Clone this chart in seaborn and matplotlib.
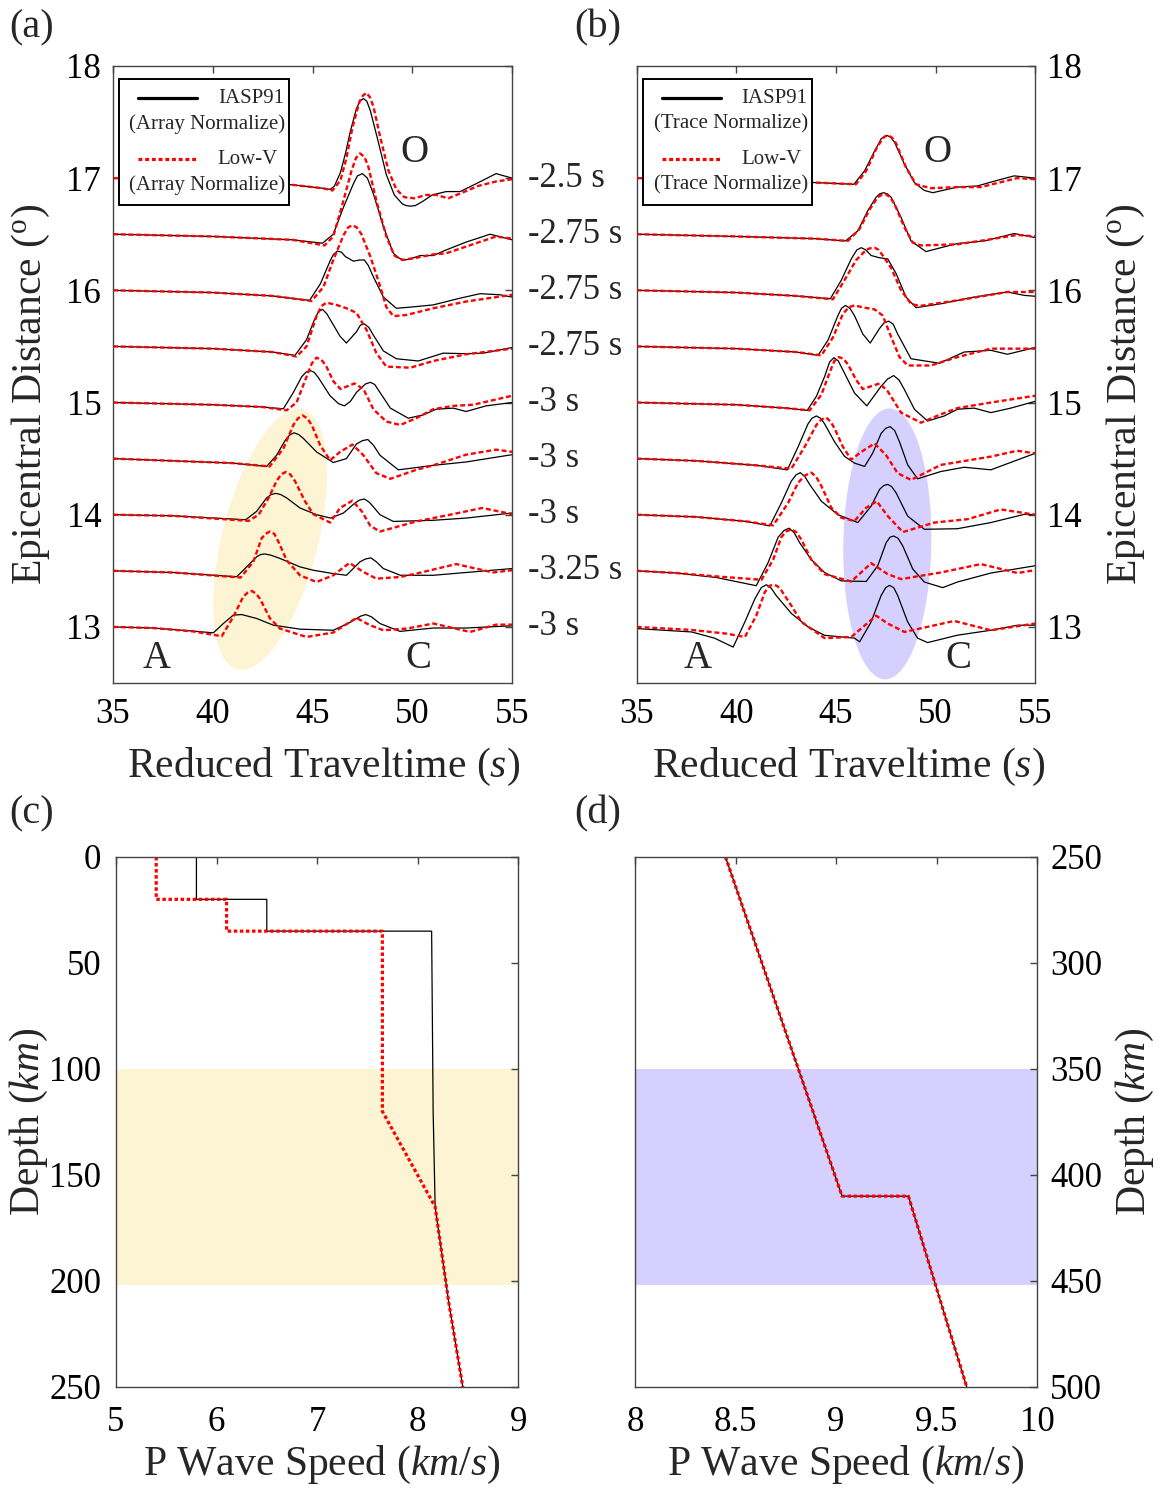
#!/usr/bin/env python3

import pandas as pd
import seaborn as sns
import matplotlib.pyplot as plt
from matplotlib.patches import Ellipse, Rectangle
from matplotlib.lines import Line2D
from matplotlib.transforms import ScaledTranslation

# epicentral distances of the record section and the time shift applied to each
DISTANCES = [13.0, 13.5, 14.0, 14.5, 15.0, 15.5, 16.0, 16.5, 17.0]
SHIFTS = ["-3 s", "-3.25 s", "-3 s", "-3 s", "-3 s", "-2.75 s", "-2.75 s", "-2.75 s", "-2.5 s"]

# waveform knots: (reduced traveltime s, amplitude in degrees above the trace baseline)
A_IASP = {
    17.0: [(35, 0), (40, -0.03), (44, -0.06), (45.5, -0.09), (45.9, -0.10), (46.1, -0.07), (46.4, 0.05),
           (46.65, 0.22), (46.9, 0.42), (47.2, 0.62), (47.38, 0.685), (47.55, 0.71), (47.72, 0.685),
           (47.9, 0.6), (48.3, 0.32), (48.7, 0.03), (49.1, -0.15), (49.5, -0.23), (49.7, -0.245),
           (49.9, -0.25), (50.15, -0.245), (50.5, -0.21), (51.0, -0.15), (51.7, -0.12),
           (52.4, -0.12), (53.2, -0.05), (54.2, 0.04), (55, 0.0)],
    16.5: [(35, 0), (40, -0.02), (44, -0.05), (45.5, -0.08), (46.04, 0.0), (46.55, 0.24), (47.05, 0.45),
           (47.25, 0.52), (47.5, 0.54), (47.75, 0.5), (48.05, 0.36), (48.55, 0.07), (49.05, -0.17),
           (49.35, -0.215), (49.6, -0.23), (49.9, -0.22), (50.4, -0.19), (51.05, -0.19), (51.7, -0.14),
           (52.7, -0.07), (53.9, 0.0), (55, -0.05)],
    16.0: [(35, 0), (40, -0.02), (43, -0.05), (44.85, -0.09), (45.4, 0.06), (45.9, 0.27), (46.05, 0.32),
           (46.25, 0.35), (46.45, 0.34), (46.65, 0.3), (47.05, 0.26), (47.35, 0.27), (47.6, 0.27),
           (47.8, 0.22), (48.05, 0.12), (48.55, -0.06), (49.2, -0.16), (49.9, -0.15), (51.05, -0.13),
           (52.4, -0.07), (53.4, -0.03), (54.4, -0.04), (55, -0.06)],
    15.5: [(35, 0), (40, -0.02), (43, -0.05), (44.12, -0.08), (44.7, 0.06), (45.1, 0.24), (45.3, 0.31),
           (45.5, 0.33), (45.72, 0.29), (45.95, 0.22), (46.38, 0.09), (46.7, 0.03), (47.2, 0.13), (47.4, 0.19),
           (47.6, 0.2), (47.82, 0.17), (48.05, 0.1), (48.55, -0.04), (49.2, -0.11), (50.3, -0.13),
           (51.55, -0.06), (52.7, -0.065), (53.55, -0.06), (55, -0.01)],
    15.0: [(35, 0), (40, -0.02), (42.5, -0.04), (43.54, -0.056), (44.04, 0.09), (44.46, 0.23), (44.67, 0.27),
           (44.87, 0.285), (45.08, 0.27), (45.3, 0.22), (45.88, 0.06), (46.3, -0.01), (46.6, -0.03),
           (46.9, 0.01), (47.2, 0.09), (47.65, 0.165), (47.9, 0.18), (48.12, 0.16), (48.38, 0.09),
           (48.9, -0.05), (49.8, -0.14), (50.55, -0.11), (51.2, -0.06), (52.05, -0.05), (52.7, -0.08),
           (53.7, -0.03), (55, 0.0)],
    14.5: [(35, 0), (38, -0.02), (41, -0.04), (42.7, -0.07), (43.2, 0.03), (43.62, 0.16), (43.85, 0.21),
           (44.07, 0.23), (44.3, 0.215), (44.54, 0.18), (45.2, 0.06), (46.04, -0.035), (46.7, 0.0),
           (47.2, 0.13), (47.5, 0.16), (47.77, 0.17), (48.05, 0.12), (48.38, 0.03), (49.3, -0.1),
           (50.2, -0.08), (51.05, -0.06), (52.7, -0.03), (55, 0.035)],
    14.0: [(35, 0), (38, -0.01), (41.65, -0.045), (42.2, 0.03), (42.7, 0.15), (42.93, 0.18), (43.15, 0.19),
           (43.4, 0.18), (43.7, 0.15), (44.37, 0.06), (45.2, 0.0), (45.9, -0.03), (46.55, 0.015), (47.1, 0.1),
           (47.35, 0.13), (47.6, 0.14), (47.85, 0.11), (48.05, 0.07), (48.38, 0.0), (49.05, -0.06),
           (51.05, -0.05), (52.7, -0.03), (55, 0.015)],
    13.5: [(35, 0), (38, -0.015), (41.2, -0.053), (41.7, 0.035), (42.2, 0.125), (42.4, 0.145), (42.6, 0.15),
           (42.9, 0.14), (43.37, 0.11), (44.37, 0.035), (45.04, 0.005), (46.04, -0.025), (46.7, -0.04),
           (47.38, 0.08), (47.65, 0.105), (47.93, 0.115), (48.2, 0.08), (48.55, 0.02), (49.4, -0.04),
           (51.05, -0.04), (52.7, -0.015), (55, 0.02)],
    13.0: [(35, 0), (37, -0.01), (38.5, -0.03), (40.03, -0.053), (40.53, 0.03), (41.03, 0.105), (41.45, 0.11),
           (42.2, 0.075), (43.04, 0.015), (44.37, -0.02), (46.04, -0.03), (46.88, 0.04), (47.4, 0.095),
           (47.67, 0.11), (47.95, 0.09), (48.38, 0.03), (49.39, -0.04), (51.05, -0.01), (52.7, -0.01),
           (55, 0.01)],
}

A_LOWV = {
    17.0: [(35, 0), (40, -0.03), (44, -0.06), (45.5, -0.09), (46.0, -0.11), (46.4, -0.02), (46.7, 0.18),
           (47.0, 0.45), (47.35, 0.68), (47.52, 0.735), (47.7, 0.76), (47.88, 0.72), (48.05, 0.64),
           (48.4, 0.36), (48.8, 0.07), (49.2, -0.1), (49.6, -0.17), (50.1, -0.18), (50.7, -0.15),
           (51.2, -0.15), (51.8, -0.18), (52.5, -0.13), (53.3, -0.07), (54.2, -0.03), (55, -0.01)],
    16.5: [(35, 0), (40, -0.02), (44, -0.05), (45.6, -0.1), (46.04, -0.02), (46.55, 0.3), (46.96, 0.57),
           (47.18, 0.68), (47.38, 0.72), (47.6, 0.69), (47.8, 0.6), (48.2, 0.3), (48.7, -0.02), (49.1, -0.19),
           (49.5, -0.23), (50.2, -0.21), (51.05, -0.18), (51.7, -0.17), (52.7, -0.11), (54.2, -0.02),
           (55, -0.04)],
    16.0: [(35, 0), (40, -0.02), (43, -0.05), (44.95, -0.095), (45.55, 0.03), (46.04, 0.27), (46.55, 0.49),
           (46.78, 0.56), (47.0, 0.58), (47.22, 0.56), (47.45, 0.5), (47.9, 0.3), (48.4, 0.03), (48.7, -0.15),
           (49.05, -0.23), (49.7, -0.22), (51.05, -0.16), (52.7, -0.1), (55, -0.04)],
    15.5: [(35, 0), (40, -0.02), (43, -0.05), (44.2, -0.09), (44.7, 0.0), (45.2, 0.27), (45.45, 0.36),
           (45.7, 0.39), (46.2, 0.37), (46.7, 0.34), (47.2, 0.3), (47.7, 0.15), (48.2, -0.06), (48.7, -0.18),
           (49.9, -0.19), (51.05, -0.13), (52.7, -0.07), (55, -0.02)],
    15.0: [(35, 0), (40, -0.02), (42.5, -0.04), (43.7, -0.07), (44.2, 0.0), (44.7, 0.23), (44.97, 0.35),
           (45.2, 0.4), (45.45, 0.38), (45.7, 0.32), (46.04, 0.19), (46.4, 0.12), (47.1, 0.17), (47.55, 0.12),
           (48.05, -0.06), (48.7, -0.17), (49.4, -0.2), (50.2, -0.14), (51.05, -0.06), (52.05, -0.03),
           (53.05, -0.02), (55, 0.06)],
    14.5: [(35, 0), (38, -0.02), (41, -0.04), (42.85, -0.07), (43.54, 0.09), (44.04, 0.3), (44.28, 0.36),
           (44.5, 0.385), (44.73, 0.36), (44.96, 0.3), (45.38, 0.12), (45.88, -0.015), (46.38, 0.06),
           (47.0, 0.125), (47.55, 0.03), (48.2, -0.13), (48.9, -0.18), (50.2, -0.1), (51.05, -0.06),
           (52.7, 0.035), (54.2, 0.08), (55, 0.06)],
    14.0: [(35, 0), (38, -0.01), (41.8, -0.055), (42.3, 0.0), (42.8, 0.15), (43.2, 0.3), (43.43, 0.36),
           (43.65, 0.38), (43.88, 0.36), (44.12, 0.3), (44.62, 0.12), (45.04, 0.005), (45.88, -0.07),
           (46.38, 0.06), (47.0, 0.125), (47.47, 0.03), (47.9, -0.1), (48.38, -0.15), (49.4, -0.1),
           (50.2, -0.06), (51.9, 0.0), (53.5, 0.06), (55, 0.005)],
    13.5: [(35, 0), (38, -0.015), (41.4, -0.06), (42.03, 0.08), (42.45, 0.29), (42.65, 0.33), (42.87, 0.35),
           (43.08, 0.33), (43.29, 0.26), (43.7, 0.095), (44.37, -0.04), (45.2, -0.1), (46.04, -0.04),
           (46.85, 0.07), (47.55, -0.01), (48.2, -0.07), (49.4, -0.055), (50.2, -0.025), (52.2, 0.06),
           (54.05, -0.015), (55, 0.005)],
    13.0: [(35, 0), (37, -0.01), (39, -0.04), (40.45, -0.083), (41.03, 0.09), (41.53, 0.27), (41.75, 0.305),
           (41.95, 0.32), (42.15, 0.3), (42.37, 0.25), (42.87, 0.075), (43.37, -0.015), (44.7, -0.09),
           (46.04, -0.05), (47.2, 0.08), (47.88, 0.015), (48.55, -0.03), (49.72, -0.015), (51.06, 0.03),
           (52.9, -0.045), (54.2, 0.02), (55, 0.02)],
}

B_IASP = {
    17.0: [(35, 0), (40, -0.02), (44, -0.04), (45.9, -0.055), (46.44, 0.065), (46.94, 0.24), (47.27, 0.35),
           (47.42, 0.37), (47.57, 0.38), (47.75, 0.365), (47.94, 0.32), (48.44, 0.125), (48.94, -0.04),
           (49.44, -0.11), (49.86, -0.13), (50.6, -0.1), (51.1, -0.08), (52.1, -0.07), (53.1, -0.02),
           (53.95, 0.02), (55, 0.0)],
    16.5: [(35, 0), (40, -0.02), (44, -0.04), (45.48, -0.06), (46.1, 0.03), (46.6, 0.21), (47.02, 0.33),
           (47.2, 0.36), (47.39, 0.37), (47.58, 0.36), (47.77, 0.33), (48.27, 0.15), (48.77, -0.06),
           (49.52, -0.155), (50.27, -0.12), (51.1, -0.083), (52.45, -0.06), (53.95, 0.006), (55, -0.03)],
    16.0: [(35, 0), (40, -0.02), (43, -0.05), (44.72, -0.075), (45.27, 0.09), (45.77, 0.28), (46.05, 0.36),
           (46.27, 0.38), (46.5, 0.36), (46.77, 0.31), (47.19, 0.29), (47.6, 0.28), (48.02, 0.15),
           (48.52, -0.06), (49.02, -0.155), (50.27, -0.12), (51.94, -0.06), (53.61, -0.015), (54.45, -0.045),
           (55, -0.053)],
    15.5: [(35, 0), (40, -0.02), (43, -0.05), (44.1, -0.08), (44.6, 0.055), (45.1, 0.275), (45.28, 0.34),
           (45.48, 0.365), (45.7, 0.34), (45.93, 0.275), (46.35, 0.11), (46.72, 0.03), (47.19, 0.16),
           (47.42, 0.21), (47.64, 0.225), (47.87, 0.2), (48.1, 0.11), (48.77, -0.11), (50.19, -0.15),
           (51.44, -0.05), (52.78, -0.035), (53.61, -0.07), (55, -0.01)],
    15.0: [(35, 0), (40, -0.02), (42.5, -0.05), (43.56, -0.07), (44.02, 0.055), (44.43, 0.23), (44.68, 0.36),
           (44.9, 0.4), (45.12, 0.37), (45.35, 0.29), (45.93, 0.085), (46.55, -0.03), (47.27, 0.145),
           (47.6, 0.21), (47.9, 0.24), (48.17, 0.2), (48.44, 0.115), (48.94, -0.06), (49.6, -0.165),
           (50.44, -0.12), (51.1, -0.06), (51.94, -0.05), (52.78, -0.09), (53.78, -0.05), (55, 0.01)],
    14.5: [(35, 0), (38, -0.02), (41, -0.06), (42.56, -0.1), (43.1, 0.105), (43.6, 0.31), (43.8, 0.36),
           (44.02, 0.38), (44.23, 0.36), (44.43, 0.31), (44.93, 0.15), (45.43, 0.02), (45.93, -0.04),
           (46.44, -0.07), (46.85, 0.05), (47.27, 0.225), (47.5, 0.27), (47.72, 0.285), (47.95, 0.25),
           (48.19, 0.15), (48.6, -0.055), (49.1, -0.18), (50.27, -0.115), (51.44, -0.077), (52.78, -0.1),
           (55, 0.047)],
    14.0: [(35, 0), (38, -0.02), (40.5, -0.06), (41.68, -0.1), (42.26, 0.105), (42.76, 0.3), (43.0, 0.355),
           (43.21, 0.375), (43.44, 0.34), (43.68, 0.27), (44.27, 0.12), (45.1, 0.0), (46.1, -0.07),
           (46.77, 0.077), (47.19, 0.225), (47.4, 0.26), (47.6, 0.27), (47.8, 0.25), (48.02, 0.195),
           (48.6, -0.012), (49.44, -0.13), (51.1, -0.125), (52.78, -0.07), (54.45, 0.003), (55, 0.0)],
    13.5: [(35, 0), (37, -0.02), (39, -0.06), (41.0, -0.133), (41.6, 0.075), (42.1, 0.3), (42.4, 0.36),
           (42.65, 0.38), (42.9, 0.34), (43.18, 0.25), (43.76, 0.1), (44.43, -0.015), (45.27, -0.09),
           (46.52, -0.095), (47.1, 0.045), (47.52, 0.25), (47.72, 0.3), (47.9, 0.31), (48.12, 0.29),
           (48.36, 0.22), (48.86, 0.015), (49.44, -0.1), (50.36, -0.15), (51.1, -0.1), (52.78, -0.02),
           (55, 0.045)],
    13.0: [(35, -0.015), (37.75, -0.045), (38.9, -0.1), (39.84, -0.18), (40.43, 0.045), (40.93, 0.25),
           (41.25, 0.35), (41.51, 0.376), (41.75, 0.345), (42.0, 0.28), (42.76, 0.12), (43.6, 0.0),
           (44.43, -0.075), (45.93, -0.1), (46.19, -0.133), (46.77, 0.045), (47.27, 0.28), (47.5, 0.35),
           (47.69, 0.37), (47.9, 0.35), (48.1, 0.28), (48.6, 0.045), (49.1, -0.1), (49.6, -0.14),
           (51.1, -0.074), (52.78, -0.03), (54.12, 0.015), (55, 0.015)],
}

B_LOWV = {
    17.0: [(35, 0), (40, -0.02), (44, -0.04), (46.0, -0.055), (46.52, 0.065), (47.02, 0.26), (47.35, 0.355),
           (47.5, 0.375), (47.65, 0.38), (47.82, 0.36), (48.02, 0.31), (48.52, 0.095), (49.02, -0.055),
           (49.77, -0.09), (51.1, -0.08), (52.28, -0.08), (54.1, 0.0), (55, -0.01)],
    16.5: [(35, 0), (40, -0.02), (44, -0.04), (45.6, -0.06), (46.18, 0.045), (46.69, 0.22), (47.1, 0.33),
           (47.3, 0.35), (47.52, 0.355), (47.72, 0.33), (47.94, 0.27), (48.44, 0.06), (48.86, -0.075),
           (49.27, -0.1), (51.1, -0.09), (52.78, -0.045), (54.1, -0.006), (55, -0.02)],
    16.0: [(35, 0), (40, -0.02), (43, -0.05), (44.85, -0.08), (45.43, 0.09), (46.02, 0.27), (46.52, 0.36),
           (46.72, 0.375), (46.94, 0.38), (47.15, 0.36), (47.35, 0.31), (47.77, 0.2), (48.27, 0.0),
           (48.77, -0.12), (49.19, -0.14), (51.1, -0.09), (53.61, -0.015), (55, -0.015)],
    15.5: [(35, 0), (40, -0.02), (43, -0.05), (44.27, -0.08), (44.85, 0.08), (45.35, 0.29), (45.65, 0.35),
           (45.93, 0.365), (46.44, 0.345), (46.94, 0.33), (47.35, 0.275), (47.77, 0.085), (48.19, -0.095),
           (48.61, -0.17), (49.77, -0.17), (51.1, -0.095), (52.78, -0.02), (55, -0.02)],
    15.0: [(35, 0), (40, -0.02), (42.5, -0.05), (43.68, -0.07), (44.27, 0.07), (44.68, 0.265), (44.92, 0.37),
           (45.15, 0.405), (45.38, 0.39), (45.6, 0.34), (46.02, 0.2), (46.35, 0.12), (47.19, 0.17),
           (47.6, 0.1), (48.27, -0.09), (49.27, -0.18), (50.27, -0.105), (51.1, -0.05), (52.78, 0.0),
           (55, 0.06)],
    14.5: [(35, 0), (38, -0.02), (41, -0.06), (42.76, -0.09), (43.43, 0.105), (44.02, 0.3), (44.28, 0.35),
           (44.52, 0.365), (44.73, 0.33), (44.93, 0.27), (45.35, 0.105), (45.77, -0.01), (46.27, 0.06),
           (46.94, 0.135), (47.52, 0.03), (48.1, -0.13), (48.77, -0.19), (50.27, -0.056), (52.78, 0.018),
           (54.1, 0.07), (55, 0.047)],
    14.0: [(35, 0), (38, -0.02), (40.5, -0.06), (41.85, -0.095), (42.6, 0.105), (43.1, 0.285), (43.45, 0.35),
           (43.76, 0.375), (44.0, 0.34), (44.27, 0.255), (44.77, 0.062), (45.27, -0.027), (45.93, -0.056),
           (46.52, 0.062), (47.05, 0.12), (47.6, -0.012), (48.36, -0.155), (49.94, -0.07), (51.61, -0.04),
           (53.28, 0.047), (55, 0.0)],
    13.5: [(35, 0), (37, -0.02), (39, -0.05), (41.26, -0.08), (41.85, 0.1), (42.26, 0.3), (42.5, 0.35),
           (42.76, 0.37), (43.0, 0.345), (43.26, 0.28), (43.76, 0.1), (44.43, -0.03), (45.77, -0.095),
           (46.77, 0.068), (47.6, -0.03), (48.27, -0.074), (50.27, -0.015), (52.28, 0.06), (54.12, -0.02),
           (55, 0.006)],
    13.0: [(35, 0), (37.75, -0.027), (39.5, -0.06), (40.43, -0.09), (41.0, 0.1), (41.43, 0.31), (41.65, 0.365),
           (41.85, 0.376), (42.05, 0.365), (42.26, 0.325), (42.76, 0.19), (43.26, 0.045), (44.43, -0.1),
           (45.77, -0.09), (47.02, 0.1), (47.6, 0.03), (48.44, -0.045), (50.94, 0.053), (52.78, -0.03),
           (55, 0.03)],
}

# P velocity models (km/s) against depth (km)
C_DEPTH = [0, 20, 20, 35, 35, 120, 165, 210, 250]
C_IASP = [5.8, 5.8, 6.5, 6.5, 8.14, 8.155, 8.175, 8.31, 8.45]
C_LOWV = [5.4, 5.4, 6.1, 6.1, 7.65, 7.65, 8.175, 8.31, 8.45]
D_DEPTH = [250, 410, 410, 500]
D_IASP = [8.45, 9.03, 9.36, 9.65]
D_LOWV = [8.45, 9.03, 9.36, 9.65]

C_BAND = (100, 202)
D_BAND = (350, 452)

YELLOW = "#fdf4d3"
PURPLE = "#d5d0fd"
RED_DASH = (0, (2.1, 1.2))
RED_DOT = (0, (1.1, 0.8))
SPINE = "#444444"

sns.set_theme(style="white")
plt.rcParams["font.family"] = ["Liberation Serif", "DejaVu Serif"]
plt.rcParams["mathtext.fontset"] = "custom"
plt.rcParams["mathtext.rm"] = "Liberation Serif"
plt.rcParams["mathtext.it"] = "Liberation Serif:italic"
plt.rcParams["axes.edgecolor"] = SPINE
plt.rcParams["axes.linewidth"] = 1.0

TICK = 25
LABEL = 30


def trace_frame(traces):
    rows = []
    for dist, knots in traces.items():
        for t, amp in knots:
            rows.append({"time": t, "pos": dist + amp, "dist": dist})
    return pd.DataFrame(rows)


def style_axes(ax, labelright=False, xpad=10.5, ypad=8.5):
    ax.tick_params(direction="in", length=5, width=1, color=SPINE, top=True, right=True,
                   labelsize=TICK, labelcolor="black",
                   labelleft=not labelright, labelright=labelright)
    ax.tick_params(axis="x", pad=xpad)
    ax.tick_params(axis="y", pad=ypad)
    for s in ax.spines.values():
        s.set_visible(True)
        s.set_color(SPINE)


def set_labels(ax, xlabel, ylabel, xc, xy, yc, yy, right=False):
    ax.set_xlabel(xlabel, fontsize=LABEL)
    ax.set_ylabel(ylabel, fontsize=LABEL)
    if right:
        ax.yaxis.set_label_position("right")
    ax.xaxis.label.set_va("center")
    ax.yaxis.label.set_va("center")
    ax.yaxis.label.set_rotation(90)
    ax.xaxis.set_label_coords(xc, xy)
    ax.yaxis.set_label_coords(yc, yy)


def legend_box(ax, norm):
    ax.add_patch(Rectangle((0.015, 0.775), 0.426, 0.204, transform=ax.transAxes,
                           facecolor="white", edgecolor="black", lw=1.4, zorder=5))
    ax.add_line(Line2D([0.063, 0.211], [0.948, 0.948], transform=ax.transAxes,
                       color="black", lw=2.3, zorder=6))
    ax.add_line(Line2D([0.063, 0.211], [0.849, 0.849], transform=ax.transAxes,
                       color="red", lw=2.3, linestyle=(0, (1.2, 0.9)), zorder=6))
    kw = dict(transform=ax.transAxes, fontsize=15, ha="right", va="center", zorder=7)
    ax.text(0.428, 0.948, "IASP91", **kw)
    ax.text(0.431, 0.906, f"({norm} Normalize)", **kw)
    ax.text(0.413, 0.849, "Low-V", **kw)
    ax.text(0.431, 0.807, f"({norm} Normalize)", **kw)


def section(ax, black, red, ellipse, norm, labelright=False):
    cx, cy, w, h, ang, col = ellipse
    ax.add_patch(Ellipse((0, 0), w, h, angle=ang, facecolor=col, edgecolor="none", zorder=0,
                         transform=fig.dpi_scale_trans + ScaledTranslation(cx, cy, ax.transData)))
    sns.lineplot(data=trace_frame(black), x="time", y="pos", units="dist", estimator=None,
                 sort=False, color="black", lw=0.9, ax=ax, legend=False)
    sns.lineplot(data=trace_frame(red), x="time", y="pos", units="dist", estimator=None,
                 sort=False, color="red", lw=1.7, linestyle=RED_DASH, ax=ax, legend=False)
    ax.set_xlim(35, 55)
    ax.set_ylim(12.5, 18)
    ax.set_xticks([35, 40, 45, 50, 55])
    ax.set_yticks([13, 14, 15, 16, 17, 18])
    style_axes(ax, labelright)
    legend_box(ax, norm)


fig = plt.figure(figsize=(11.59, 14.88), dpi=100)
ax_a = fig.add_axes([0.0975, 0.541, 0.3443, 0.4147])
ax_b = fig.add_axes([0.5494, 0.541, 0.3437, 0.4147])
ax_c = fig.add_axes([0.1001, 0.0679, 0.3469, 0.3562])
ax_d = fig.add_axes([0.5479, 0.0679, 0.3469, 0.3562])

section(ax_a, A_IASP, A_LOWV, (42.87, 13.78, 0.96, 2.68, -14.2, YELLOW), "Array")
section(ax_b, B_IASP, B_LOWV, (47.58, 13.74, 0.88, 2.71, -1.0, PURPLE), "Trace", labelright=True)

XLAB_T = "Reduced Traveltime ($s$)"
YLAB_D = "Epicentral Distance ($^{\\mathrm{o}}$)"
set_labels(ax_a, XLAB_T, YLAB_D, 0.527, -0.136, -0.205, 0.467)
set_labels(ax_b, XLAB_T, YLAB_D, 0.531, -0.136, 1.227, 0.467, right=True)

for ax, o, a, c in [(ax_a, 50.09, 37.2, 50.29), (ax_b, 50.09, 38.08, 51.15)]:
    ax.text(o, 17.23, "O", fontsize=28, ha="center", va="center")
    ax.text(a, 12.72, "A", fontsize=28, ha="center", va="center")
    ax.text(c, 12.72, "C", fontsize=28, ha="center", va="center")

for dist, shift in zip(DISTANCES, SHIFTS):
    ax_a.text(55.8, dist, shift, fontsize=25, ha="left", va="center", clip_on=False)

# velocity profiles
ax_c.axhspan(*C_BAND, color=YELLOW, lw=0, zorder=0)
sns.lineplot(x=C_IASP, y=C_DEPTH, sort=False, estimator=None, color="black", lw=0.9, ax=ax_c)
sns.lineplot(x=C_LOWV, y=C_DEPTH, sort=False, estimator=None, color="red", lw=2.3,
             linestyle=RED_DOT, ax=ax_c)
ax_c.set_xlim(5, 9)
ax_c.set_ylim(250, 0)
ax_c.set_xticks([5, 6, 7, 8, 9])
ax_c.set_yticks([0, 50, 100, 150, 200, 250])
style_axes(ax_c, xpad=14, ypad=10.5)

ax_d.axhspan(*D_BAND, color=PURPLE, lw=0, zorder=0)
sns.lineplot(x=D_IASP, y=D_DEPTH, sort=False, estimator=None, color="black", lw=0.9, ax=ax_d)
sns.lineplot(x=D_LOWV, y=D_DEPTH, sort=False, estimator=None, color="red", lw=2.3,
             linestyle=RED_DOT, ax=ax_d)
ax_d.set_xlim(8, 10)
ax_d.set_ylim(500, 250)
D_XTICKS = [8, 8.5, 9, 9.5, 10]
ax_d.set_xticks(D_XTICKS)
ax_d.set_xticklabels([f"{v:g}" for v in D_XTICKS])
ax_d.set_yticks([250, 300, 350, 400, 450, 500])
style_axes(ax_d, labelright=True, xpad=14, ypad=9.5)

XLAB_V = "P Wave Speed ($km/s$)"
YLAB_Z = "Depth ($km$)"
set_labels(ax_c, XLAB_V, YLAB_Z, 0.512, -0.147, -0.216, 0.5)
set_labels(ax_d, XLAB_V, YLAB_Z, 0.525, -0.147, 1.244, 0.5, right=True)

for lab, x, y in [("(a)", 0.0276, 0.981), ("(b)", 0.516, 0.981), ("(c)", 0.0276, 0.4533), ("(d)", 0.516, 0.4533)]:
    fig.text(x, y, lab, fontsize=29, ha="center", va="center")

fig.savefig("out.png", dpi=100)
